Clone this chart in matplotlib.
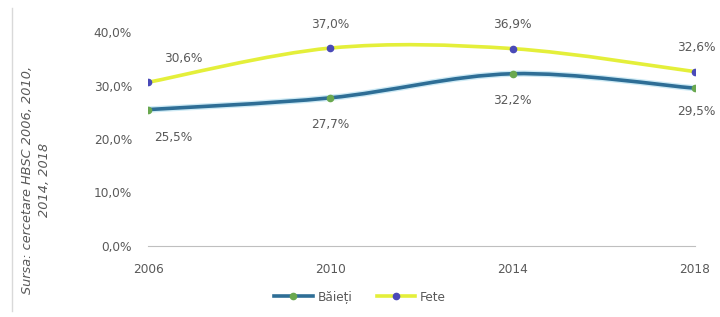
import numpy as np
import matplotlib
matplotlib.use("Agg")
from matplotlib import pyplot as plt
from matplotlib.path import Path
from matplotlib.patches import PathPatch
from matplotlib.lines import Line2D

years = [2006, 2010, 2014, 2018]
baieti = [25.5, 27.7, 32.2, 29.5]
fete = [30.6, 37.0, 36.9, 32.6]
y_ticks = [0, 10, 20, 30, 40]
source_text = "Sursa: cercetare HBSC 2006, 2010,\n2014, 2018"

BLUE_LINE = "#2e6e96"
GREEN_MK = "#6aa84f"
YELLOW_LINE = "#e4ef3a"
PURPLE_MK = "#4a4ab8"
GREY = "#595959"
FS = 8.7

plt.rcParams['font.family'] = ['DejaVu Sans']


def smooth_path(xs, ys):
    # Excel style smoothed line: catmull-rom turned into cubic bezier segments
    pts = list(zip(xs, ys))
    verts = [pts[0]]
    codes = [Path.MOVETO]
    n = len(pts)
    for i in range(n - 1):
        p0 = pts[i - 1] if i > 0 else pts[i]
        p1 = pts[i]
        p2 = pts[i + 1]
        p3 = pts[i + 2] if i + 2 < n else pts[i + 1]
        c1 = (p1[0] + (p2[0] - p0[0]) / 6, p1[1] + (p2[1] - p0[1]) / 6)
        c2 = (p2[0] - (p3[0] - p1[0]) / 6, p2[1] - (p3[1] - p1[1]) / 6)
        verts += [c1, c2, p2]
        codes += [Path.CURVE4] * 3
    return Path(verts, codes)


fig = plt.figure(figsize=(7.2, 3.17), dpi=100)
ax = fig.add_axes([0.2056, 0.224, 0.7594, 0.675])

# light halo under the blue line, as in the source image
ax.add_patch(PathPatch(smooth_path(years, baieti), fill=False, edgecolor="#cdeaf5",
                       lw=4.5, capstyle='round', zorder=2))
for vals, lc, mc in [(baieti, BLUE_LINE, GREEN_MK), (fete, YELLOW_LINE, PURPLE_MK)]:
    ax.add_patch(PathPatch(smooth_path(years, vals), fill=False, edgecolor=lc,
                           lw=2.6, capstyle='round', zorder=3))
    ax.plot(years, vals, ls='none', marker='o', ms=4.5, color=mc, zorder=4)

def fmt(v):
    return f"{v:.1f}%".replace(".", ",")

# data labels
fete_off = [(25, 17), (0, 17), (0, 17), (1, 17)]
baieti_off = [(18, -20), (0, -19), (0, -19), (1, -17)]
for x, v, off in zip(years, fete, fete_off):
    ax.annotate(fmt(v), (x, v), xytext=off, textcoords='offset points',
                ha='center', va='center', fontsize=FS, color=GREY, annotation_clip=False)
for x, v, off in zip(years, baieti, baieti_off):
    ax.annotate(fmt(v), (x, v), xytext=off, textcoords='offset points',
                ha='center', va='center', fontsize=FS, color=GREY, annotation_clip=False)

ax.set_xlim(2006, 2018)
ax.set_ylim(0, 40)
ax.set_xticks(years)
ax.set_xticklabels([str(y) for y in years])
ax.set_yticks(y_ticks)
ax.set_yticklabels([fmt(t) for t in y_ticks])
ax.tick_params(length=0, labelsize=FS, colors=GREY)
ax.tick_params(axis='y', pad=11.5)
ax.tick_params(axis='x', pad=12)
for s in ['top', 'right', 'left']:
    ax.spines[s].set_visible(False)
ax.spines['bottom'].set_color("#bfbfbf")
ax.spines['bottom'].set_linewidth(0.8)

handles = [
    Line2D([], [], color=BLUE_LINE, lw=2.6, marker='o', ms=4.5, mfc=GREEN_MK, mec=GREEN_MK),
    Line2D([], [], color=YELLOW_LINE, lw=2.6, marker='o', ms=4.5, mfc=PURPLE_MK, mec=PURPLE_MK),
]
fig.legend(handles, ["Băieți", "Fete"], loc='center', bbox_to_anchor=(0.5, 0.063),
           ncol=2, frameon=False, fontsize=FS, labelcolor=GREY, handlelength=3.2,
           columnspacing=2.0, handletextpad=0.4)

fig.text(0.05, 0.432, source_text, rotation=90, ha='center', va='center',
         fontsize=9.3, style='italic', color=GREY, multialignment='center',
         linespacing=1.4)
fig.add_artist(Line2D([0.017, 0.017], [0.02, 0.975], color="#d9d9d9", lw=1))

fig.savefig("out.png", dpi=100)
